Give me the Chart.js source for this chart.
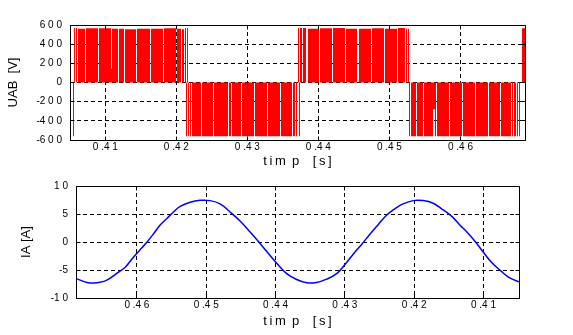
<!DOCTYPE html>
<html>
<head>
<meta charset="utf-8">
<script src="https://cdn.jsdelivr.net/npm/chart.js@4.4.0/dist/chart.umd.min.js"></script>
<style>
  html, body { margin: 0; padding: 0; background: #fff; }
  #wrap { position: relative; width: 573px; height: 335px; }
  canvas { position: absolute; left: 0; }
</style>
</head>
<body>
<div id="wrap">
  <canvas id="uab" width="573" height="172" style="top:0"></canvas>
  <canvas id="ia" width="573" height="163" style="top:172px"></canvas>
</div>
<script>
// line-to-line voltage: switching instants [s] and the level held from each instant [V]
const uabTime = [
  0.40503, 0.40517, 0.40545, 0.40559, 0.40573, 0.40587, 0.40602, 0.40616, 0.40714, 0.40728,
  0.40897, 0.40911, 0.41080, 0.41094, 0.41179, 0.41193, 0.41263, 0.41277, 0.41432, 0.41446,
  0.41629, 0.41643, 0.41812, 0.41826, 0.41995, 0.42010, 0.42066, 0.42080, 0.42108, 0.42122,
  0.42136, 0.42150, 0.42164, 0.42178, 0.42193, 0.42207, 0.42221, 0.42347, 0.42361, 0.42516,
  0.42530, 0.42728, 0.42742, 0.42770, 0.42784, 0.42911, 0.42925, 0.43094, 0.43108, 0.43277,
  0.43291, 0.43460, 0.43474, 0.43629, 0.43643, 0.43671, 0.43685, 0.43699, 0.43713, 0.43727,
  0.43741, 0.43769, 0.43783, 0.43826, 0.43854, 0.44009, 0.44023, 0.44192, 0.44206, 0.44375,
  0.44389, 0.44544, 0.44572, 0.44741, 0.44755, 0.44924, 0.44938, 0.45107, 0.45121, 0.45219,
  0.45234, 0.45248, 0.45262, 0.45276, 0.45290, 0.45304, 0.45374, 0.45388, 0.45473, 0.45487,
  0.45614, 0.45642, 0.45656, 0.45670, 0.45839, 0.45853, 0.46022, 0.46036, 0.46205, 0.46219,
  0.46388, 0.46402, 0.46557, 0.46571, 0.46712, 0.46726, 0.46740, 0.46754, 0.46782, 0.46796,
  0.46810, 0.46825, 0.46839, 0.46867, 0.46909
];
const uabLevel = [
  -560, 0, -560, 570, 0, 570, 0, 560, 0, 565,
  0, 565, 146, 560, 0, 560, 0, 555, 0, 560,
  0, 560, 0, 565, 0, 560, 0, 555, 0, 570,
  -560, 570, -560, 0, -560, 0, -560, 0, -560, 0,
  -560, 0, -560, 0, -560, 0, -560, 0, -560, 0,
  -560, 0, -560, 0, -560, 0, -560, 0, 570, -560,
  570, 0, 570, 0, 560, 0, 565, 0, 570, 0,
  560, 0, 560, 0, 565, 0, 560, 0, 570, 0,
  560, 0, 560, -560, 0, -560, 0, -560, 0, -560,
  -280, -560, 0, -560, 0, -560, 0, -560, 0, -560,
  0, -560, 0, -560, 0, -560, 0, -560, 0, -560,
  0, -560, 0, 565, 0
];

// phase current samples [s], [A]
const iaTime = [
  0.40487, 0.40621, 0.40741, 0.40885, 0.41006, 0.41111, 0.41222, 0.41341, 0.41461, 0.41605,
  0.41726, 0.41870, 0.42014, 0.42159, 0.42278, 0.42398, 0.42519, 0.42638, 0.42758, 0.42879,
  0.42999, 0.43118, 0.43262, 0.43406, 0.43550, 0.43695, 0.43839, 0.43983, 0.44127, 0.44238,
  0.44367, 0.44512, 0.44656, 0.44800, 0.44944, 0.45088, 0.45232, 0.45376, 0.45473, 0.45568,
  0.45664, 0.45761, 0.45856, 0.45928, 0.46000, 0.46072, 0.46169, 0.46265, 0.46360, 0.46457,
  0.46553, 0.46648, 0.46720, 0.46793, 0.46879
];
const iaCurrent = [
  -7.11, -6.42, -5.25, -3.63, -1.75, -0.03, 1.58, 3.04, 4.61, 5.93,
  6.92, 7.39, 7.39, 6.80, 5.93, 4.78, 3.10, 1.40, -0.43, -2.17,
  -4.03, -5.65, -6.64, -7.22, -7.29, -6.70, -5.65, -3.80, -1.70, -0.03,
  1.80, 3.75, 5.36, 6.80, 7.39, 7.44, 7.10, 6.35, 5.36, 4.19,
  3.04, 1.45, -0.03, -1.03, -2.00, -3.04, -4.50, -5.37, -6.24, -6.94,
  -7.22, -7.34, -7.22, -6.94, -6.52
];

const timeTicks = [0.41, 0.42, 0.43, 0.44, 0.45, 0.46];
const uabTicks = [-600, -400, -200, 0, 200, 400, 600];
const iaTicks = [-10, -5, 0, 5, 10];

const TS = '\u2009';
// old-style plot labels: wide gaps between the digits
const spacedNumber = s => s.split('').join(' ').replace('- ', '-');
const spacedTime = v => { const s = v.toFixed(2); return s[0] + ' .' + s[2] + ' ' + s[3]; };
const timeTitle = 't' + TS + 'i' + TS + 'm ' + TS + 'p   ' + TS + '[' + TS + 's' + TS + ']';

const FAMILY = "'Liberation Sans', Arial, sans-serif";
const tickFont = { family: FAMILY, size: 10 };
const titleFont = { family: FAMILY, size: 13 };

Chart.defaults.color = '#000';

const fixedTicks = list => scale => { scale.ticks = list.map(value => ({ value })); };
const align = p => Math.round(p - 0.5) + 0.5;

// solid box round the plot area with short inward tick marks
const plotFrame = {
  id: 'plotFrame',
  afterDatasetsDraw(chart) {
    const { ctx, chartArea, scales: { x, y } } = chart;
    const l = align(chartArea.left), r = align(chartArea.right);
    const t = align(chartArea.top), b = align(chartArea.bottom);
    ctx.save();
    ctx.strokeStyle = '#000';
    ctx.lineWidth = 1;
    ctx.beginPath();
    ctx.rect(l, t, r - l, b - t);
    x.ticks.forEach(tk => {
      const px = align(x.getPixelForValue(tk.value));
      ctx.moveTo(px, b); ctx.lineTo(px, b - 4);
      ctx.moveTo(px, t); ctx.lineTo(px, t + 4);
    });
    y.ticks.forEach(tk => {
      const py = align(y.getPixelForValue(tk.value));
      ctx.moveTo(l, py); ctx.lineTo(l + 4, py);
      ctx.moveTo(r, py); ctx.lineTo(r - 4, py);
    });
    ctx.stroke();
    ctx.restore();
  }
};

function xAxis(min, max, reverse, height, titlePad) {
  return {
    type: 'linear', min, max, reverse,
    afterBuildTicks: fixedTicks(timeTicks),
    afterFit: s => { s.height = height; },
    grid: { color: '#000', lineWidth: 1, drawTicks: false },
    border: { display: false, dash: [4, 3] },
    ticks: { font: tickFont, padding: 1, maxRotation: 0, autoSkip: false,
             callback: spacedTime },
    title: { display: true, text: timeTitle, font: titleFont,
             padding: { top: 0, bottom: titlePad } }
  };
}

function yAxis(min, max, list, width, label, titlePad) {
  return {
    min, max,
    afterBuildTicks: fixedTicks(list),
    afterFit: s => { s.width = width; },
    grid: { color: '#000', lineWidth: 1, drawTicks: false },
    border: { display: false, dash: [4, 3] },
    ticks: { font: tickFont, padding: 8, callback: v => spacedNumber(String(v)) },
    title: { display: true, text: label, font: titleFont,
             padding: { top: titlePad, bottom: 0 } }
  };
}

const common = {
  responsive: false,
  animation: false,
  events: [],
  plugins: { legend: { display: false }, tooltip: { enabled: false } }
};

new Chart(document.getElementById('uab'), {
  type: 'line',
  data: {
    datasets: [{
      data: uabTime.map((t, i) => ({ x: t, y: uabLevel[i] })),
      stepped: true,
      fill: 'origin',
      backgroundColor: '#ff0000',
      borderColor: '#ff0000',
      borderWidth: 0,
      pointRadius: 0
    }]
  },
  options: {
    ...common,
    layout: { padding: { top: 25, right: 48, left: 0, bottom: 0 } },
    scales: {
      x: xAxis(0.40503, 0.46909, false, 32, 2.7),
      y: yAxis(-600, 600, uabTicks, 70, 'UAB  [V]', 5.7)
    }
  },
  plugins: [plotFrame]
});

new Chart(document.getElementById('ia'), {
  type: 'line',
  data: {
    datasets: [{
      data: iaTime.map((t, i) => ({ x: t, y: iaCurrent[i] })),
      borderColor: '#0000ff',
      borderWidth: 1.5,
      tension: 0.4,
      fill: false,
      pointRadius: 0
    }]
  },
  options: {
    ...common,
    layout: { padding: { top: 11, right: 54, left: 0, bottom: 0 } },
    scales: {
      x: xAxis(0.40487, 0.46879, true, 37, 5.5),
      y: yAxis(-10, 10, iaTicks, 76, 'IA [A]', 18.7)
    }
  },
  plugins: [plotFrame]
});
</script>
</body>
</html>
